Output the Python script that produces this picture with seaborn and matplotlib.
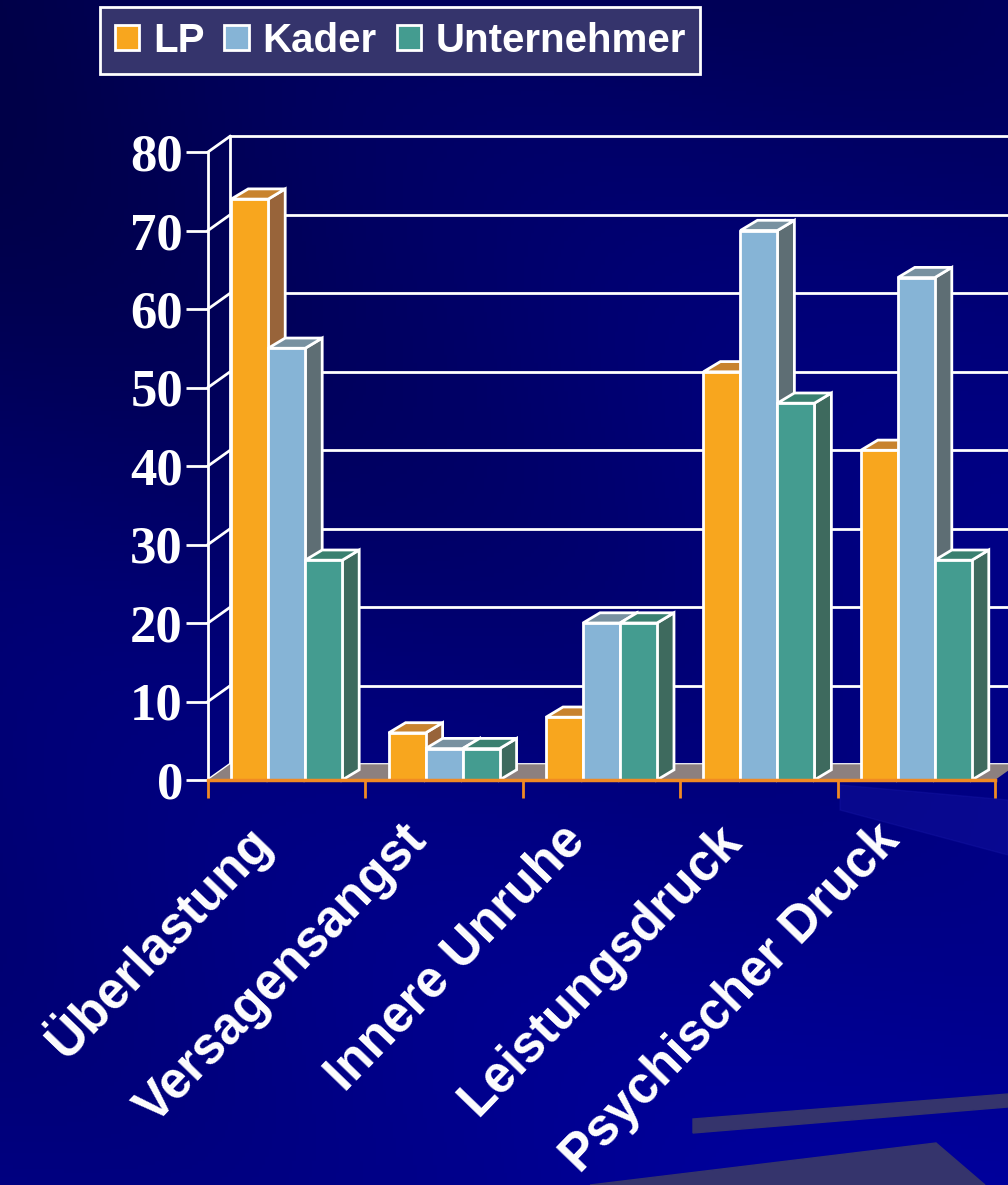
import numpy as np
import pandas as pd
import matplotlib.pyplot as plt
import seaborn as sns
from matplotlib.patches import Polygon, Patch
from matplotlib.colors import LinearSegmentedColormap
from matplotlib.transforms import ScaledTranslation

kategorien = ['Überlastung', 'Versagensangst', 'Innere Unruhe', 'Leistungsdruck', 'Psychischer Druck']
gruppen = ['LP', 'Kader', 'Unternehmer']
lp = [74, 6, 8, 52, 42]
kader = [55, 4, 20, 70, 64]
unternehmer = [28, 4, 20, 48, 28]
y_ticks = [0, 10, 20, 30, 40, 50, 60, 70, 80]

front_col = ['#F8A61E', '#86B4D6', '#449C90']
top_col = ['#C8832E', '#7891A0', '#3A8070']
side_col = ['#98643A', '#5E6E74', '#3E6A5E']

df = pd.DataFrame({'Kategorie': kategorien * 3,
                   'Gruppe': np.repeat(gruppen, len(kategorien)),
                   'Wert': lp + kader + unternehmer})

W, H = 1008, 1185
fig = plt.figure(figsize=(W / 100, H / 100), dpi=100)

# hintergrund
bg = fig.add_axes([0, 0, 1, 1])
bg.set_axis_off()
yy, xx = np.mgrid[0:1:300j, 0:1:300j]
g = 0.55 * yy + 0.25 * xx + 0.08 * np.sin((xx * 0.6 - yy) * 9)
cmap = LinearSegmentedColormap.from_list('bg', ['#000048', '#000078', '#00009C'])
bg.imshow(g, cmap=cmap, extent=(0, W, H, 0), aspect='auto')
bg.set_xlim(0, W)
bg.set_ylim(H, 0)
bg.add_patch(Polygon([(693, 1119), (1008, 1094), (1008, 1107), (693, 1133)], color='#35346C'))
bg.add_patch(Polygon([(590, 1185), (936, 1143), (985, 1185)], color='#35346C'))
bg.add_patch(Polygon([(840, 785), (1008, 800), (1008, 855), (840, 810)], color='#1818A8', alpha=0.35))

ax = fig.add_axes([208 / W, 1 - 780 / H, 787 / W, 628 / H])
sns.barplot(data=df, x='Kategorie', y='Wert', hue='Gruppe', palette=front_col,
            width=0.705, saturation=1, edgecolor='white', linewidth=2,
            legend=False, ax=ax)
ax.set_xlim(-0.5, 4.5)
ax.set_ylim(0, 80)
ax.set_facecolor('none')
ax.set_xlabel('')
ax.set_ylabel('')

# 3d tiefe
wdx, wdy = 0.14, 2.0
bdx, bdy = 0.108, 1.3

ax.add_patch(Polygon([(-0.5, 0), (4.5, 0), (4.5 + wdx, wdy), (-0.5 + wdx, wdy)],
                     facecolor='#8C807F', edgecolor='none', zorder=1.5, clip_on=False))
for v in y_ticks:
    ax.plot([-0.5 + wdx, 5.2], [v + wdy, v + wdy], color='white', lw=2, zorder=1, clip_on=False)
    ax.plot([-0.5, -0.5 + wdx], [v, v + wdy], color='white', lw=2, zorder=1, clip_on=False)
ax.plot([-0.5 + wdx, -0.5 + wdx], [wdy, 80 + wdy], color='white', lw=2, zorder=1, clip_on=False)

for h, cont in enumerate(ax.containers):
    for p in cont:
        x0, w, hg = p.get_x(), p.get_width(), p.get_height()
        ax.add_patch(Polygon([(x0 + w, 0), (x0 + w + bdx, bdy), (x0 + w + bdx, hg + bdy), (x0 + w, hg)],
                             facecolor=side_col[h], edgecolor='white', lw=2, zorder=3 + 2 * h,
                             clip_on=False, joinstyle='miter'))
        ax.add_patch(Polygon([(x0, hg), (x0 + bdx, hg + bdy), (x0 + w + bdx, hg + bdy), (x0 + w, hg)],
                             facecolor=top_col[h], edgecolor='white', lw=2, zorder=3 + 2 * h,
                             clip_on=False, joinstyle='miter'))
        p.set_zorder(4 + 2 * h)
        p.set_joinstyle('miter')

for s in ['top', 'right']:
    ax.spines[s].set_visible(False)
ax.spines['left'].set_color('white')
ax.spines['left'].set_linewidth(2)
ax.spines['bottom'].set_color('#F08A24')
ax.spines['bottom'].set_linewidth(2.5)
ax.spines['bottom'].set_zorder(20)

ax.set_yticks(y_ticks)
ax.set_yticklabels([str(v) for v in y_ticks], fontfamily='Liberation Serif',
                   fontweight='bold', fontsize=38, color='white')
ax.tick_params(axis='y', colors='white', length=16, width=2, pad=2)

ax.set_xticks(range(len(kategorien)))
ax.set_xticks(np.arange(-0.5, 5, 1), minor=True)
ax.set_xticklabels(kategorien, rotation=46, ha='right', va='center', rotation_mode='anchor',
                   fontfamily='Liberation Sans', fontweight='bold', fontsize=37, color='white')
ax.tick_params(axis='x', which='major', length=0, pad=38)
ax.tick_params(axis='x', which='minor', colors='#F08A24', length=13, width=2)
shift = ScaledTranslation(-0.25, 0, fig.dpi_scale_trans)
for lab in ax.get_xticklabels():
    lab.set_transform(lab.get_transform() + shift)

handles = [Patch(facecolor=c, edgecolor='white', linewidth=2) for c in front_col]
leg = fig.legend(handles, gruppen, loc='upper left', bbox_to_anchor=(100 / W, 1 - 7 / H),
                 ncol=3, frameon=True, facecolor='#35346C', edgecolor='white', framealpha=1,
                 fancybox=False, prop={'family': 'Liberation Sans', 'weight': 'bold', 'size': 29},
                 labelcolor='white', handlelength=0.6, handleheight=0.6, handletextpad=0.35,
                 columnspacing=0.5, borderpad=0.36, borderaxespad=0)
leg.get_frame().set_linewidth(2)

fig.savefig('out.png', dpi=100)
